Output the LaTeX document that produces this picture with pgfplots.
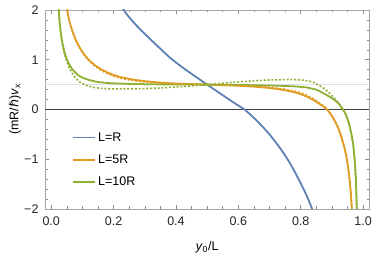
\documentclass[border=0pt]{standalone}
\usepackage{pgfplots}
\pgfplotsset{compat=1.18}
\usepackage{fontspec}
\setmainfont{Liberation Sans}
\newfontfamily\dejavu{DejaVu Sans}
\definecolor{mblue}{rgb}{0.368417,0.506779,0.709798}
\definecolor{morange}{rgb}{0.880722,0.611041,0.142051}
\definecolor{mgreen}{rgb}{0.560181,0.691569,0.194885}
\begin{document}
\begin{tikzpicture}[font=\fontsize{12.5}{14}\selectfont]
\useasboundingbox (0,0) rectangle (374pt,256pt);
\begin{axis}[
  at={(45pt,47pt)}, anchor=south west, scale only axis,
  width=324.3pt, height=199pt,
  xmin=-0.02, xmax=1.02, ymin=-2, ymax=2,
  xtick={0,0.2,0.4,0.6,0.8,1}, xticklabels={0.0,0.2,0.4,0.6,0.8,1.0},
  ytick={-2,-1,0,1,2}, yticklabels={−2,−1,0,1,2},
  minor xtick={0.05,0.1,0.15,0.25,0.3,0.35,0.45,0.5,0.55,0.65,0.7,0.75,0.85,0.9,0.95},
  minor ytick={-1.8,-1.6,-1.4,-1.2,-0.8,-0.6,-0.4,-0.2,0.2,0.4,0.6,0.8,1.2,1.4,1.6,1.8},
  tick align=inside, major tick length=4pt, minor tick length=2.5pt,
  axis line style={black!35, line width=0.6pt},
  every tick/.style={black!45, line width=0.5pt},
  tick label style={text=black!85},
  xticklabel style={yshift=-4.5pt},
  yticklabel style={xshift=-3pt},
  xlabel={\textit{y}\textsubscript{0}/L},
  ylabel={(mR/{\dejavu\itshape ℏ})\textit{v}\textsubscript{x}},
  xlabel style={at={(axis description cs:0.5,-0.19)}, anchor=center},
  ylabel style={at={(axis description cs:-0.0925,0.5)}, anchor=center},
  legend style={at={(axis description cs:0.075,0.405)}, anchor=north west, draw=none, fill=none, row sep=8pt, font=\fontsize{12.5}{14}\selectfont},
  legend cell align=left,
  legend image code/.code={\draw[#1, line width=1.6pt] (0pt,0pt) -- (22pt,0pt);},
  clip=true,
]
\addplot[black!12, line width=0.6pt, forget plot] coordinates {(-0.02,0.5)(1.02,0.5)};
\addplot[black!75, line width=0.7pt, forget plot] coordinates {(-0.02,0)(1.02,0)};

\addplot[mblue, line width=1.8pt] coordinates {(0.15,3.4)(0.16,3.12)(0.18,2.76)(0.20,2.42)(0.22,2.13)(0.24,1.93)(0.26,1.78)(0.28,1.645)(0.30,1.52)(0.32,1.40)(0.34,1.28)(0.36,1.16)(0.38,1.045)(0.40,0.945)(0.42,0.85)(0.44,0.76)(0.46,0.673)(0.48,0.586)(0.50,0.5)(0.52,0.415)(0.54,0.33)(0.56,0.245)(0.58,0.16)(0.60,0.08)(0.62,0.0)(0.64,-0.11)(0.66,-0.23)(0.68,-0.36)(0.70,-0.50)(0.72,-0.66)(0.74,-0.83)(0.76,-1.02)(0.78,-1.24)(0.80,-1.48)(0.82,-1.74)(0.84,-2.05)(0.85,-2.25)};
\addlegendentry{L=R}

\addplot[morange, line width=1.8pt] coordinates {(0.034,3.5)(0.036,3.1)(0.038,2.88)(0.040,2.7)(0.045,2.3)(0.050,2.05)(0.055,1.87)(0.060,1.73)(0.070,1.54)(0.080,1.38)(0.090,1.26)(0.10,1.16)(0.11,1.075)(0.12,1.00)(0.14,0.89)(0.16,0.81)(0.18,0.745)(0.20,0.695)(0.22,0.655)(0.25,0.615)(0.28,0.585)(0.30,0.57)(0.35,0.54)(0.40,0.522)(0.45,0.51)(0.50,0.5)(0.55,0.49)(0.60,0.478)(0.65,0.46)(0.70,0.432)(0.72,0.417)(0.75,0.387)(0.78,0.347)(0.80,0.308)(0.82,0.258)(0.84,0.192)(0.86,0.115)(0.88,0.025)(0.89,-0.04)(0.90,-0.13)(0.91,-0.24)(0.92,-0.37)(0.93,-0.54)(0.94,-0.76)(0.945,-0.9)(0.95,-1.07)(0.955,-1.3)(0.96,-1.62)(0.964,-2.0)(0.967,-2.4)(0.970,-2.9)};
\addlegendentry{L=5R}

\addplot[mgreen, line width=1.8pt] coordinates {(0.016,3.6)(0.018,3.1)(0.020,2.7)(0.022,2.32)(0.024,2.02)(0.027,1.75)(0.030,1.57)(0.033,1.44)(0.037,1.30)(0.043,1.14)(0.050,1.01)(0.059,0.89)(0.070,0.79)(0.086,0.69)(0.10,0.64)(0.12,0.595)(0.139,0.565)(0.16,0.545)(0.18,0.533)(0.20,0.525)(0.25,0.515)(0.30,0.509)(0.35,0.505)(0.40,0.503)(0.45,0.501)(0.50,0.5)(0.55,0.497)(0.60,0.493)(0.65,0.488)(0.70,0.482)(0.74,0.475)(0.78,0.465)(0.818,0.445)(0.85,0.4)(0.875,0.32)(0.893,0.255)(0.905,0.21)(0.92,0.13)(0.935,0.01)(0.945,-0.10)(0.955,-0.28)(0.962,-0.47)(0.968,-0.68)(0.973,-1.0)(0.977,-1.4)(0.980,-2.0)(0.982,-2.4)(0.984,-3.0)};
\addlegendentry{L=10R}

\addplot[morange, line width=1.6pt, dash pattern=on 2pt off 1.8pt, forget plot] coordinates {(0.034,3.5)(0.036,3.1)(0.040,2.7)(0.045,2.3)(0.050,2.05)(0.055,1.87)(0.060,1.73)(0.070,1.53)(0.080,1.37)(0.090,1.245)(0.10,1.145)(0.11,1.06)(0.12,0.985)(0.14,0.87)(0.16,0.785)(0.18,0.72)(0.20,0.67)(0.22,0.632)(0.25,0.594)(0.28,0.568)(0.30,0.555)(0.35,0.532)(0.40,0.516)(0.45,0.507)(0.50,0.5)(0.55,0.493)(0.60,0.484)(0.65,0.468)(0.70,0.445)(0.72,0.432)(0.75,0.408)(0.78,0.372)(0.80,0.335)(0.82,0.285)(0.84,0.215)(0.86,0.135)(0.88,0.04)(0.89,-0.03)(0.90,-0.12)(0.91,-0.23)(0.92,-0.36)(0.93,-0.54)(0.94,-0.76)(0.945,-0.9)(0.95,-1.07)(0.955,-1.3)(0.96,-1.62)(0.964,-2.0)(0.967,-2.4)(0.970,-2.9)};

\addplot[mgreen, line width=1.6pt, dash pattern=on 2pt off 1.8pt, forget plot] coordinates {(0.016,3.6)(0.018,3.1)(0.020,2.7)(0.022,2.32)(0.024,2.02)(0.027,1.75)(0.030,1.56)(0.033,1.42)(0.037,1.27)(0.043,1.10)(0.050,0.96)(0.059,0.82)(0.070,0.70)(0.080,0.62)(0.090,0.56)(0.10,0.52)(0.118,0.47)(0.14,0.44)(0.16,0.425)(0.19,0.415)(0.25,0.415)(0.30,0.42)(0.35,0.432)(0.40,0.452)(0.45,0.475)(0.50,0.5)(0.55,0.528)(0.60,0.555)(0.65,0.578)(0.70,0.593)(0.75,0.60)(0.78,0.60)(0.80,0.595)(0.82,0.58)(0.84,0.55)(0.86,0.48)(0.871,0.44)(0.88,0.40)(0.89,0.34)(0.90,0.28)(0.91,0.21)(0.92,0.14)(0.925,0.10)(0.935,0.0)(0.945,-0.11)(0.955,-0.29)(0.962,-0.48)(0.968,-0.69)(0.973,-1.01)(0.977,-1.41)(0.980,-2.0)(0.982,-2.4)(0.984,-3.0)};
\end{axis}
\end{tikzpicture}
\end{document}
